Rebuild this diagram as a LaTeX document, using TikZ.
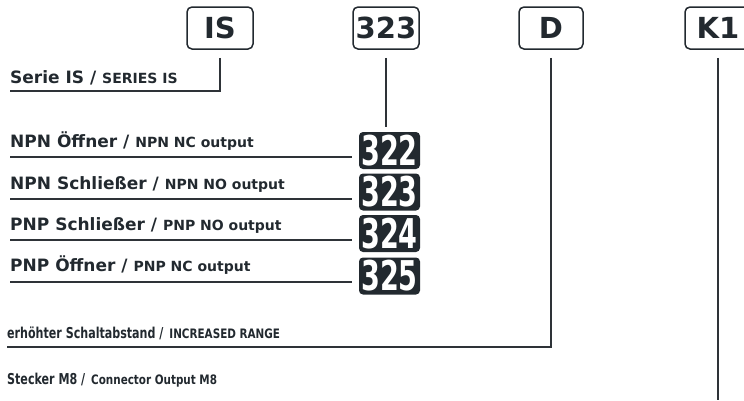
\documentclass[tikz,border=0pt]{standalone}
\usepackage{fontspec}
\usepackage{graphicx}
\setmainfont{DejaVu Sans}
\definecolor{ink}{HTML}{22292F}
\definecolor{wire}{HTML}{2E3338}
\tikzset{
  topbox/.style={draw=ink, line width=1.5pt, rounded corners=5pt, minimum width=66pt, minimum height=42pt, inner sep=0pt, text=ink, font=\bfseries\fontsize{29}{30}\selectfont},
  numbox/.style={fill=ink, rounded corners=4pt, minimum width=61pt, minimum height=37pt, inner sep=0pt, text=white, font=\bfseries\fontsize{41}{41}\selectfont},
  lbl/.style={anchor=base west, inner sep=0pt, text=ink, font=\bfseries\fontsize{17}{19}\selectfont},
  wireline/.style={draw=wire, line width=1.2pt},
}
\newcommand{\sm}[1]{{\fontsize{14}{16}\selectfont #1}}
\newcommand{\cnum}[1]{\scalebox{0.66}[1]{#1}}
\newcommand{\cbig}[1]{\scalebox{0.74}[1]{\fontsize{15}{17}\selectfont #1}}
\newcommand{\csm}[1]{\scalebox{0.8}[1]{\fontsize{13}{15}\selectfont #1}}
\begin{document}
\begin{tikzpicture}[x=1pt,y=-1pt]
\useasboundingbox (0,0) rectangle (744,400);
% top code boxes
\node[topbox] (IS)  at (220,28) {IS};
\node[topbox] (T323) at (386,28) {323};
\node[topbox, minimum width=64pt] (D) at (551,28) {D};
\node[topbox] (K1) at (718,28) {K1};
% black variant boxes
\node[numbox] (B322) at (389.5,150.5) {\cnum{322}};
\node[numbox] (B323) at (389.5,192) {\cnum{323}};
\node[numbox] (B324) at (389.5,233.5) {\cnum{324}};
\node[numbox] (B325) at (389.5,276) {\cnum{325}};
% labels
\node[lbl] (L1) at (10,83) {Serie IS / \sm{SERIES IS}};
\node[lbl] (L2) at (10,147) {NPN Öffner / \sm{NPN NC output}};
\node[lbl] (L3) at (10,189) {NPN Schließer / \sm{NPN NO output}};
\node[lbl] (L4) at (10,230) {PNP Schließer / \sm{PNP NO output}};
\node[lbl] (L5) at (10,271) {PNP Öffner / \sm{PNP NC output}};
\node[lbl] (L6) at (7,338) {\cbig{erhöhter Schaltabstand /} \csm{INCREASED RANGE}};
\node[lbl] (L7) at (7,384) {\cbig{Stecker M8 /} \csm{Connector Output M8}};
% free ends
\coordinate (uIS) at (10,91);
\coordinate (u1) at (10,157);
\coordinate (u2) at (10,199);
\coordinate (u3) at (10,240);
\coordinate (u4) at (10,282);
\coordinate (uD) at (7,347);
\coordinate (eK) at (718,400);
% connectors
\draw[wireline] ([yshift=-8pt]IS.south) |- (uIS);
\draw[wireline] ([yshift=-8pt]T323.south) -- ([yshift=5pt]B322.north -| T323.south);
\draw[wireline] ([yshift=-8pt]D.south) |- (uD);
\draw[wireline] ([yshift=-8pt]K1.south) -- (eK);
\draw[wireline] (u1) -- ([xshift=-7pt]u1 -| B322.west);
\draw[wireline] (u2) -- ([xshift=-7pt]u2 -| B323.west);
\draw[wireline] (u3) -- ([xshift=-7pt]u3 -| B324.west);
\draw[wireline] (u4) -- ([xshift=-7pt]u4 -| B325.west);
\end{tikzpicture}
\end{document}
